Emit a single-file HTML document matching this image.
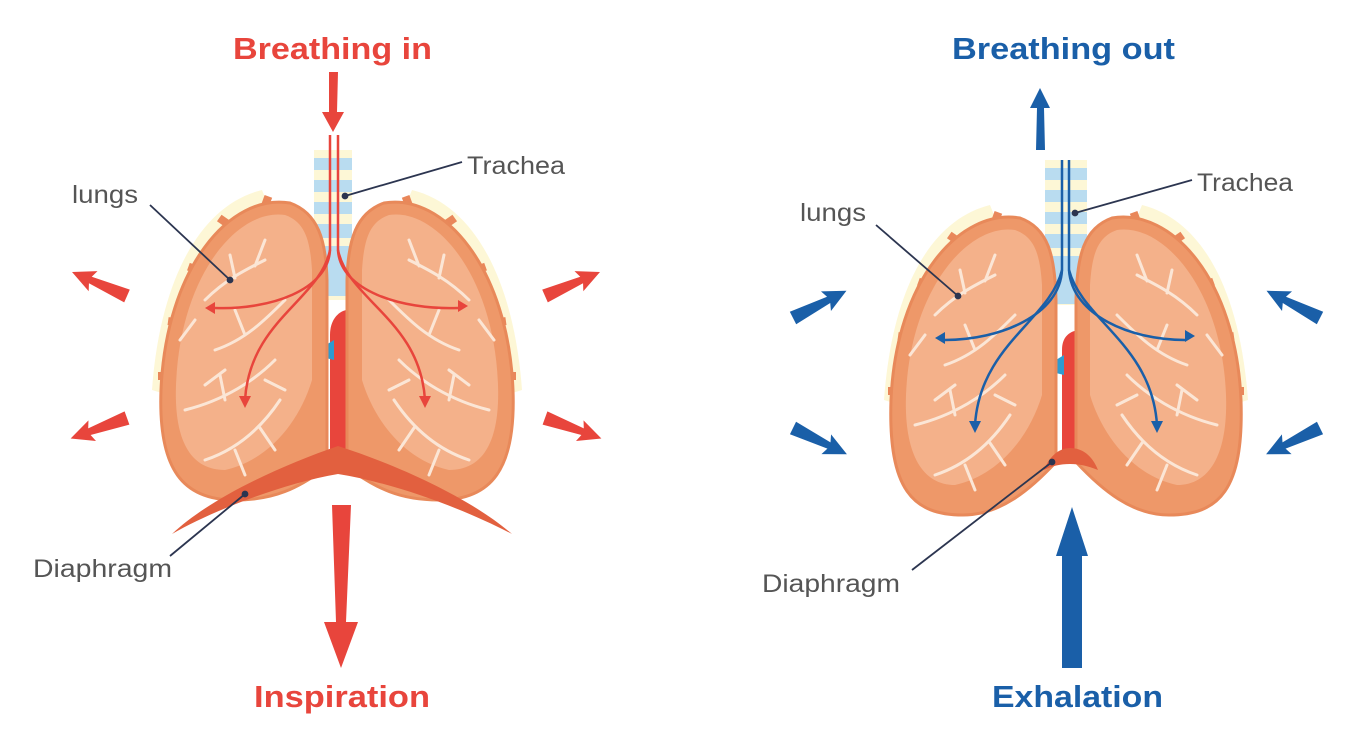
<!DOCTYPE html>
<html><head><meta charset="utf-8"><style>
html,body{margin:0;padding:0;background:#fff;}
svg{display:block;}
text{font-family:"Liberation Sans",sans-serif;}
</style></head><body>
<svg width="1364" height="735" viewBox="0 0 1364 735" xmlns="http://www.w3.org/2000/svg">
<defs>
<polygon id="arr" points="0,-7 40,-3.5 37,-11 60,0 37,11 40,3.5 0,7"/>
<g id="veins" fill="none" stroke="#fbe6d6" stroke-width="3" stroke-linecap="round">
  <path d="M-60,100 C-40,80 -20,70 0,60 M-30,78 L-35,55 M-10,66 L0,40 M-50,150 C-20,140 0,120 20,100 M-20,135 L-30,110 M-80,210 C-40,200 -10,180 10,160 M-40,200 L-45,175 M-60,260 C-30,250 -5,230 15,200 M-30,250 L-20,275 M-5,228 L10,250 M-70,120 L-85,140 M-40,170 L-60,185 M0,180 L20,190"/>
</g>
</defs>

<!-- ========== LEFT FIGURE ========== -->
<text x="233" y="59" textLength="199" lengthAdjust="spacingAndGlyphs" font-size="31" font-weight="bold" fill="#e8453c">Breathing in</text>
<polygon points="329,72 338,72 337,112 344,112 333,132 322,112 329,112" fill="#e8453c"/>

<path d="M262,190 C200,205 160,280 152,390 L168,395 C172,290 205,220 268,205 Z" fill="#fdf7d6"/>
<path d="M412,190 C474,205 514,280 522,390 L506,395 C502,290 469,220 406,205 Z" fill="#fdf7d6"/>
<g fill="#e9875a">
<rect x="262" y="196" width="8" height="14" transform="rotate(20 266 203)"/>
<rect x="218" y="218" width="14" height="8" transform="rotate(35 225 222)"/>
<rect x="188" y="265" width="14" height="8" transform="rotate(20 195 269)"/>
<rect x="168" y="318" width="14" height="8" transform="rotate(8 175 322)"/>
<rect x="158" y="372" width="14" height="8"/>
<rect x="404" y="196" width="8" height="14" transform="rotate(-20 408 203)"/>
<rect x="442" y="218" width="14" height="8" transform="rotate(-35 449 222)"/>
<rect x="472" y="265" width="14" height="8" transform="rotate(-20 479 269)"/>
<rect x="492" y="318" width="14" height="8" transform="rotate(-8 499 322)"/>
<rect x="502" y="372" width="14" height="8"/>
</g>

<rect x="314" y="150" width="38" height="150" fill="#fdf7d6"/>
<g fill="#b9dcf0">
<rect x="314" y="158" width="38" height="12"/><rect x="314" y="180" width="38" height="12"/>
<rect x="314" y="202" width="38" height="12"/><rect x="314" y="224" width="38" height="14"/>
<rect x="314" y="246" width="38" height="50"/>
</g>
<path d="M330,460 L330,335 C330,320 338,312 346,310 L346,460 Z" fill="#e8453c"/>
<path d="M326,345 L334,340 L334,360 L326,358 Z" fill="#2e9bd0"/>

<g>
<path d="M290,203 C230,193 166,268 161,390 C158,470 183,500 235,500 C280,500 300,485 327,468 L327,280 C326,240 318,213 290,203 Z" fill="#ee9869" stroke="#e8895a" stroke-width="3"/>
<path d="M285,215 C238,208 180,275 176,385 C174,440 190,470 225,470 C270,460 300,420 312,380 L312,270 C310,240 305,222 285,215 Z" fill="#f4b18a"/>
<use href="#veins" transform="translate(265,200)"/>
</g>
<g transform="translate(674,0) scale(-1,1)">
<path d="M290,203 C230,193 166,268 161,390 C158,470 183,500 235,500 C280,500 300,485 327,468 L327,280 C326,240 318,213 290,203 Z" fill="#ee9869" stroke="#e8895a" stroke-width="3"/>
<path d="M285,215 C238,208 180,275 176,385 C174,440 190,470 225,470 C270,460 300,420 312,380 L312,270 C310,240 305,222 285,215 Z" fill="#f4b18a"/>
<use href="#veins" transform="translate(265,200)"/>
</g>

<path d="M172,534 C210,498 280,466 338,446 C400,466 470,498 512,534 C470,512 400,484 338,474 C280,484 210,512 172,534 Z" fill="#e2603f"/>

<g fill="none" stroke="#e8453c" stroke-width="2.5">
<path d="M330,135 L330,250 C328,290 270,310 215,308"/>
<path d="M338,135 L338,250 C340,290 400,310 458,308"/>
<path d="M330,250 C320,300 250,320 245,400"/>
<path d="M338,250 C348,300 420,320 425,400"/>
</g>
<g fill="#e8453c">
<polygon points="205,308 215,302 215,314"/><polygon points="468,306 458,300 458,312"/>
<polygon points="245,408 239,396 251,396"/><polygon points="425,408 419,396 431,396"/>
</g>

<g fill="#e8453c">
<use href="#arr" transform="translate(127,296) rotate(203.6)"/>
<use href="#arr" transform="translate(127,418) rotate(160)"/>
<use href="#arr" transform="translate(545,296) rotate(-23.6)"/>
<use href="#arr" transform="translate(545,418) rotate(20)"/>
</g>
<polygon points="332,505 351,505 346,622 358,622 341,668 324,622 336,622" fill="#e8453c"/>
<text x="254" y="707" textLength="176" lengthAdjust="spacingAndGlyphs" font-size="31" font-weight="bold" fill="#e8453c">Inspiration</text>

<g font-size="25" fill="#555">
<text x="72" y="203" textLength="66" lengthAdjust="spacingAndGlyphs">lungs</text>
<text x="467" y="174" textLength="98" lengthAdjust="spacingAndGlyphs">Trachea</text>
<text x="33" y="577" textLength="139" lengthAdjust="spacingAndGlyphs">Diaphragm</text>
</g>
<g stroke="#2c3550" stroke-width="1.8" fill="#2c3550">
<line x1="150" y1="205" x2="230" y2="280"/><circle cx="230" cy="280" r="2.5"/>
<line x1="462" y1="162" x2="345" y2="196"/><circle cx="345" cy="196" r="2.5"/>
<line x1="170" y1="556" x2="245" y2="494"/><circle cx="245" cy="494" r="2.5"/>
</g>

<!-- ========== RIGHT FIGURE ========== -->
<text x="952" y="59" textLength="223" lengthAdjust="spacingAndGlyphs" font-size="31" font-weight="bold" fill="#1a5fa8">Breathing out</text>
<polygon points="1036,150 1045,150 1044,108 1050,108 1040,88 1030,108 1037,108" fill="#1a5fa8"/>

<path d="M990,205 C930,220 892,290 884,400 L900,405 C904,300 935,235 996,220 Z" fill="#fdf7d6"/>
<path d="M1142,205 C1202,220 1240,290 1248,400 L1232,405 C1228,300 1197,235 1136,220 Z" fill="#fdf7d6"/>
<g fill="#e9875a">
<rect x="992" y="212" width="8" height="14" transform="rotate(20 996 219)"/>
<rect x="948" y="235" width="14" height="8" transform="rotate(35 955 239)"/>
<rect x="918" y="280" width="14" height="8" transform="rotate(20 925 284)"/>
<rect x="898" y="333" width="14" height="8" transform="rotate(8 905 337)"/>
<rect x="888" y="387" width="14" height="8"/>
<rect x="1132" y="212" width="8" height="14" transform="rotate(-20 1136 219)"/>
<rect x="1170" y="235" width="14" height="8" transform="rotate(-35 1177 239)"/>
<rect x="1200" y="280" width="14" height="8" transform="rotate(-20 1207 284)"/>
<rect x="1220" y="333" width="14" height="8" transform="rotate(-8 1227 337)"/>
<rect x="1230" y="387" width="14" height="8"/>
</g>

<rect x="1045" y="160" width="42" height="145" fill="#fdf7d6"/>
<g fill="#b9dcf0">
<rect x="1045" y="168" width="42" height="12"/><rect x="1045" y="190" width="42" height="12"/>
<rect x="1045" y="212" width="42" height="12"/><rect x="1045" y="234" width="42" height="14"/>
<rect x="1045" y="256" width="42" height="48"/>
</g>
<path d="M1062,460 L1062,350 C1062,338 1068,332 1078,330 L1078,460 Z" fill="#e8453c"/>
<path d="M1056,360 L1064,355 L1064,375 L1056,373 Z" fill="#2e9bd0"/>

<g>
<path d="M1020,218 C960,208 896,280 891,400 C888,490 913,515 963,515 C1000,515 1030,490 1056,462 L1056,300 C1055,255 1048,228 1020,218 Z" fill="#ee9869" stroke="#e8895a" stroke-width="3"/>
<path d="M1015,230 C968,223 910,290 906,395 C904,450 920,485 955,485 C1000,475 1030,435 1042,395 L1042,285 C1040,255 1035,237 1015,230 Z" fill="#f4b18a"/>
<use href="#veins" transform="translate(995,215)"/>
</g>
<g transform="translate(2132,0) scale(-1,1)">
<path d="M1020,218 C960,208 896,280 891,400 C888,490 913,515 963,515 C1000,515 1030,490 1056,462 L1056,300 C1055,255 1048,228 1020,218 Z" fill="#ee9869" stroke="#e8895a" stroke-width="3"/>
<path d="M1015,230 C968,223 910,290 906,395 C904,450 920,485 955,485 C1000,475 1030,435 1042,395 L1042,285 C1040,255 1035,237 1015,230 Z" fill="#f4b18a"/>
<use href="#veins" transform="translate(995,215)"/>
</g>
<path d="M1044,470 C1050,455 1060,448 1070,448 C1082,448 1092,455 1098,470 C1088,466 1080,464 1070,464 C1060,464 1052,466 1044,470 Z" fill="#e2603f"/>

<g fill="none" stroke="#1a5fa8" stroke-width="2.5">
<path d="M1062,160 L1062,270 C1060,315 1000,340 945,340"/>
<path d="M1069,160 L1069,270 C1072,315 1130,340 1185,340"/>
<path d="M1062,270 C1050,320 980,345 975,425"/>
<path d="M1069,270 C1082,320 1152,345 1157,425"/>
</g>
<g fill="#1a5fa8">
<polygon points="935,338 945,332 945,344"/><polygon points="1195,336 1185,330 1185,342"/>
<polygon points="975,433 969,421 981,421"/><polygon points="1157,433 1151,421 1163,421"/>
</g>

<g fill="#1a5fa8">
<use href="#arr" transform="translate(793,318) rotate(-27)"/>
<use href="#arr" transform="translate(793,428) rotate(26)"/>
<use href="#arr" transform="translate(1320,318) rotate(207)"/>
<use href="#arr" transform="translate(1320,428) rotate(154)"/>
</g>
<polygon points="1072,507 1088,556 1082,556 1082,668 1062,668 1062,556 1056,556" fill="#1a5fa8"/>
<text x="992" y="707" textLength="171" lengthAdjust="spacingAndGlyphs" font-size="31" font-weight="bold" fill="#1a5fa8">Exhalation</text>

<g font-size="25" fill="#555">
<text x="800" y="221" textLength="66" lengthAdjust="spacingAndGlyphs">lungs</text>
<text x="1197" y="191" textLength="96" lengthAdjust="spacingAndGlyphs">Trachea</text>
<text x="762" y="592" textLength="138" lengthAdjust="spacingAndGlyphs">Diaphragm</text>
</g>
<g stroke="#2c3550" stroke-width="1.8" fill="#2c3550">
<line x1="876" y1="225" x2="958" y2="296"/><circle cx="958" cy="296" r="2.5"/>
<line x1="1192" y1="180" x2="1075" y2="213"/><circle cx="1075" cy="213" r="2.5"/>
<line x1="912" y1="570" x2="1052" y2="462"/><circle cx="1052" cy="462" r="2.5"/>
</g>
</svg>
</body></html>
